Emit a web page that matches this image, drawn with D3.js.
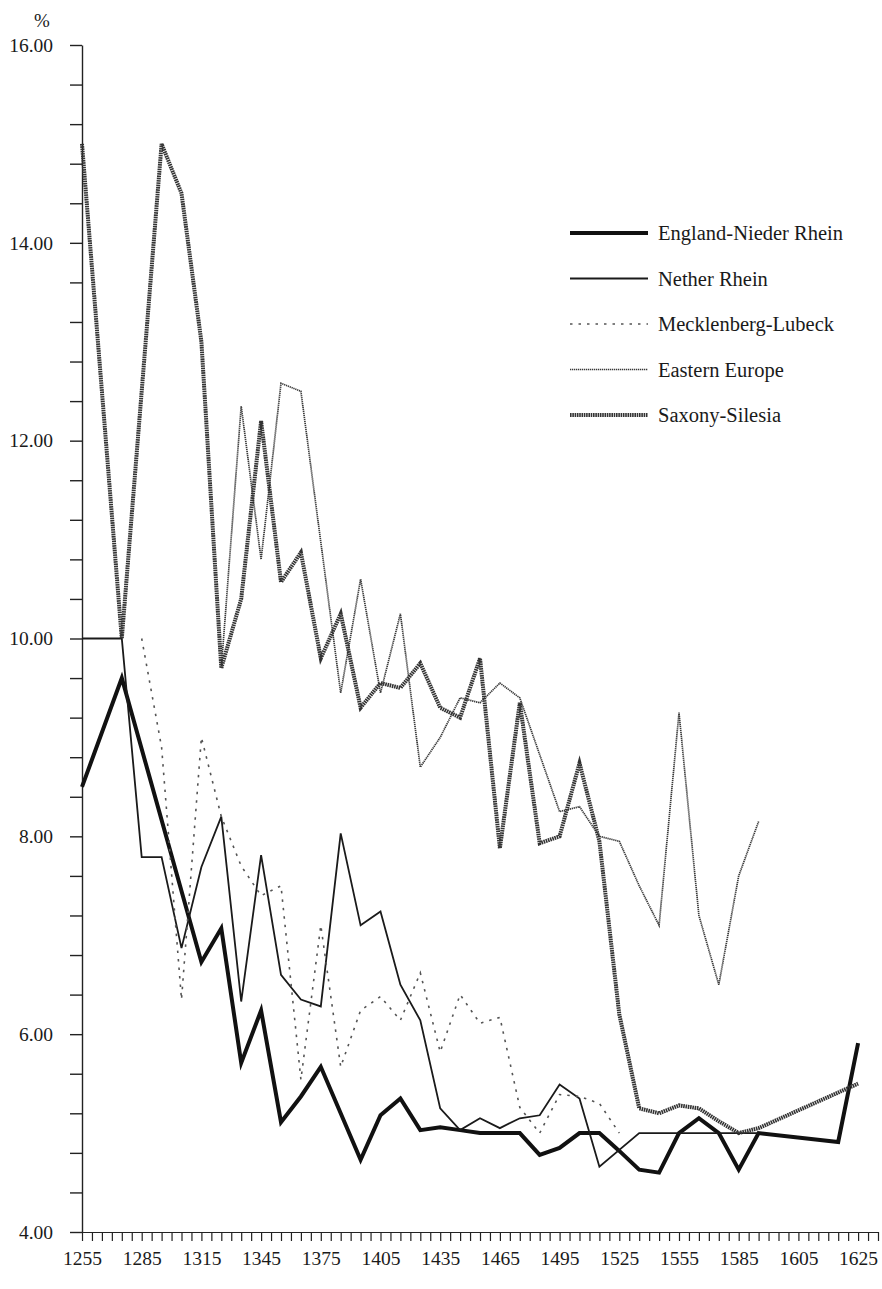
<!DOCTYPE html>
<html>
<head>
<meta charset="utf-8">
<script src="https://cdn.jsdelivr.net/npm/d3@7"></script>
<style>
  body { margin: 0; background: #fff; }
</style>
</head>
<body>
<script>
const serif = "'Liberation Serif', 'Times New Roman', 'DejaVu Serif', serif";

// x axis: one tick per slot, labels every 6 slots
const nSlots = 81;
const tickLabels = ["1255", "1285", "1315", "1345", "1375", "1405", "1435",
                    "1465", "1495", "1525", "1555", "1585", "1605", "1625"];

// data points sit on every second slot (0, 2, 4 ... 78)
const slots = d3.range(0, 80, 2);

const englandNiederRhein = [8.5, null, 9.6, null, null, null, 6.73, 7.07, 5.71, 6.24,
  5.11, 5.37, 5.67, null, 4.73, 5.18, 5.35, 5.03, 5.06, 5.03,
  5.0, 5.0, 5.0, 4.78, 4.85, 5.0, 5.0, 4.82, 4.63, 4.6,
  5.0, 5.15, 5.0, 4.63, 5.0, null, null, null, 4.91, 5.91];

const netherRhein = [10.0, null, 10.0, 7.79, 7.79, 6.87, 7.69, 8.2, 6.33, 7.81,
  6.6, 6.35, 6.28, 8.03, 7.1, 7.24, 6.5, 6.14, 5.25, 5.03,
  5.15, 5.05, 5.15, 5.18, 5.49, 5.35, 4.66, null, 5.0, 5.0,
  5.0, 5.0, 5.0, 5.0, 5.0, null, null, null, null, null];

const mecklenbergLubeck = [null, null, null, 10.0, 8.9, 6.35, 9.0, 8.2, 7.7, 7.4,
  7.5, 5.54, 7.1, 5.67, 6.24, 6.38, 6.14, 6.62, 5.82, 6.4,
  6.11, 6.17, 5.26, 5.0, 5.39, 5.37, 5.3, 5.0, null, null,
  null, null, null, null, null, null, null, null, null, null];

const easternEurope = [null, null, null, null, null, null, null, 9.7, 12.35, 10.8,
  12.58, 12.5, null, 9.45, 10.6, 9.45, 10.25, 8.7, 9.0, 9.4,
  9.35, 9.55, 9.4, null, 8.25, 8.3, 8.0, 7.95, 7.5, 7.1,
  9.25, 7.2, 6.5, 7.6, 8.15, null, null, null, null, null];

const saxonySilesia = [15.0, null, 10.0, null, 15.0, 14.5, 13.0, 9.7, 10.4, 12.2,
  10.57, 10.87, 9.8, 10.25, 9.3, 9.55, 9.5, 9.75, 9.3, 9.2,
  9.8, 7.88, 9.35, 7.93, 8.0, 8.74, 7.95, 6.2, 5.25, 5.2,
  5.28, 5.25, 5.12, 5.0, 5.05, null, null, null, null, 5.5];

const seriesNames = ["England-Nieder Rhein", "Nether Rhein", "Mecklenberg-Lubeck",
                     "Eastern Europe", "Saxony-Silesia"];
const seriesValues = [englandNiederRhein, netherRhein, mecklenbergLubeck,
                      easternEurope, saxonySilesia];

// line looks, same order as the names
const styles = [
  { stroke: "#111", width: 4, dash: null },
  { stroke: "#1a1a1a", width: 1.8, dash: null },
  { stroke: "#555", width: 1.6, dash: "2.5,6" },
  { stroke: "#3a3a3a", width: 1.7, dash: "1.3,0.7" },
  { stroke: "#333", width: 4, dash: "1.6,0.7" }
];

const svg = d3.select("body")
    .append("svg")
    .attr("width", 882)
    .attr("height", 1289);

const x = d3.scaleLinear()
    .domain([0, nSlots - 1])
    .range([82, 878]);

const y = d3.scaleLinear()
    .domain([4, 16])
    .range([1232, 45]);

// y axis, ticks every 0.4, labels every 2
const yTicks = d3.range(0, 31).map(i => 4 + i * 0.4);
svg.append("g")
    .attr("transform", "translate(82,0)")
    .call(d3.axisLeft(y)
        .tickValues(yTicks)
        .tickSize(12)
        .tickSizeOuter(0)
        .tickPadding(17)
        .tickFormat((d, i) => i % 5 === 0 ? d.toFixed(2) : ""))
    .call(g => g.attr("font-family", serif).attr("font-size", 19.5))
    .call(g => g.selectAll("text").attr("fill", "#1a1a1a"))
    .call(g => g.selectAll("line, path").attr("stroke", "#222").attr("stroke-width", 1.4));

// x axis
svg.append("g")
    .attr("transform", "translate(0,1232)")
    .call(d3.axisBottom(x)
        .tickValues(d3.range(0, nSlots))
        .tickSize(9)
        .tickSizeOuter(0)
        .tickPadding(10.5)
        .tickFormat(i => i % 6 === 0 ? tickLabels[i / 6] : ""))
    .call(g => g.attr("font-family", serif).attr("font-size", 19.5))
    .call(g => g.selectAll("text").attr("fill", "#1a1a1a"))
    .call(g => g.selectAll("line, path").attr("stroke", "#222").attr("stroke-width", 1.2));

svg.append("text")
    .attr("x", 42)
    .attr("y", 27)
    .attr("text-anchor", "middle")
    .attr("font-family", serif)
    .attr("font-size", 19)
    .attr("fill", "#1a1a1a")
    .text("%");

const line = d3.line()
    .x(d => x(d.slot))
    .y(d => y(d.value));

seriesValues.forEach((values, s) => {
    const pts = slots.map((slot, i) => ({ slot: slot, value: values[i] }))
        .filter(d => d.value != null);
    svg.append("path")
        .datum(pts)
        .attr("d", line)
        .attr("fill", "none")
        .attr("stroke", styles[s].stroke)
        .attr("stroke-width", styles[s].width)
        .attr("stroke-dasharray", styles[s].dash)
        .attr("stroke-linejoin", "miter");
});

// legend
const legend = svg.append("g")
    .attr("font-family", serif)
    .attr("font-size", 20.5);
seriesNames.forEach((name, s) => {
    const ly = 233 + s * 45.5;
    legend.append("line")
        .attr("x1", 570)
        .attr("x2", 648)
        .attr("y1", ly)
        .attr("y2", ly)
        .attr("stroke", styles[s].stroke)
        .attr("stroke-width", styles[s].width)
        .attr("stroke-dasharray", styles[s].dash);
    legend.append("text")
        .attr("x", 658)
        .attr("y", ly)
        .attr("dy", "0.35em")
        .attr("fill", "#1a1a1a")
        .text(name);
});
</script>
</body>
</html>
